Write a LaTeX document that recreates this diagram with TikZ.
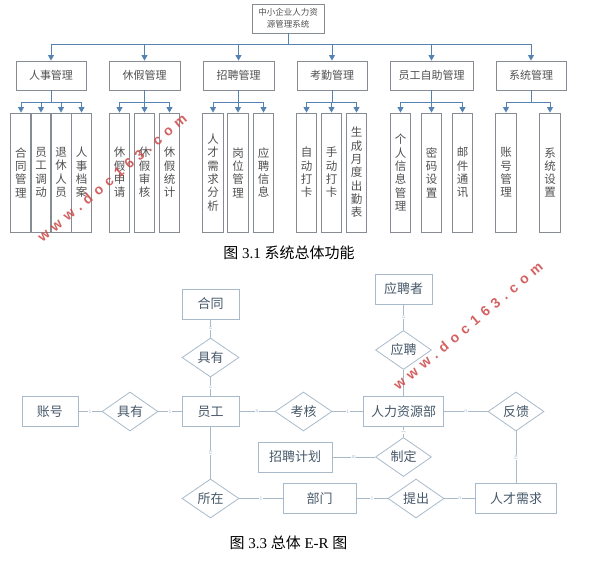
\documentclass[tikz,border=0pt]{standalone}
\usepackage{fontspec}
\setmainfont{Liberation Serif}
\newfontfamily\cjk{Noto Sans CJK SC}
\newfontfamily\wmfont[LetterSpace=40]{Liberation Sans}
\usepackage{xcolor}
\usetikzlibrary{arrows.meta}
\usetikzlibrary{shapes.geometric}
\definecolor{tline}{RGB}{84,130,178}
\definecolor{tbox}{RGB}{135,140,148}
\definecolor{ttext}{RGB}{80,80,80}
\definecolor{erline}{RGB}{168,186,202}
\definecolor{ertext}{RGB}{70,88,105}
\definecolor{wmred}{RGB}{205,70,70}
\tikzset{
	topbox/.style={draw=tbox, line width=0.9pt, minimum width=70pt, minimum height=29pt,
		inner sep=0pt, text=ttext, font=\cjk\fontsize{11}{13}\selectfont},
	leafbox/.style={draw=tbox, line width=0.9pt, minimum width=20.5pt, minimum height=119pt,
		inner sep=0pt, align=center, text=ttext, font=\cjk\fontsize{11.5}{13.3}\selectfont},
	tarrow/.style={draw=tline, line width=0.9pt, -{Triangle[length=5.5pt,width=6pt]}},
	entity/.style={draw=erline, line width=0.8pt, minimum height=30pt, inner sep=0pt,
		text=ertext, font=\cjk\fontsize{13}{15}\selectfont},
	relation/.style={entity, diamond, aspect=1.45, minimum width=56pt, minimum height=39pt},
	erlink/.style={draw=erline, line width=0.8pt},
	card/.style={midway, fill=white, inner sep=0.6pt, text=erline, font=\fontsize{5.5}{6}\selectfont},
	vcard/.style={card, rotate=90},
	wmark/.style={rotate=40, text=wmred, opacity=0.85, font=\wmfont\bfseries\fontsize{14}{14}\selectfont},
}

\begin{document}
\begin{tikzpicture}[x=1pt, y=-1pt]
	\useasboundingbox (0,0) rectangle (606,575);
	% function tree
	\node[draw=tbox, line width=0.9pt, minimum width=72pt, minimum height=29pt, inner sep=0pt,
		align=center, text=ttext, font=\cjk\fontsize{8.5}{12}\selectfont] (root) at (288,18.5)
		{中小企业人力资\\源管理系统};
	\node[topbox] (rs) at (51,75.5) {人事管理};
	\node[topbox, minimum width=71pt] (xj) at (144.5,75.5) {休假管理};
	\node[topbox, minimum width=71pt] (zp) at (238.5,75.5) {招聘管理};
	\node[topbox] (kq) at (332,75.5) {考勤管理};
	\node[topbox, minimum width=83pt] (zz) at (431.5,75.5) {员工自助管理};
	\node[topbox] (xt) at (531,75.5) {系统管理};
	\foreach \x/\n/\t in {21/rs1/合\\同\\管\\理, 41/rs2/员\\工\\调\\动, 61/rs3/退\\休\\人\\员,
		81.5/rs4/人\\事\\档\\案, 119.5/xj1/休\\假\\申\\请, 144.5/xj2/休\\假\\审\\核,
		169.5/xj3/休\\假\\统\\计, 213/zp1/人\\才\\需\\求\\分\\析, 238/zp2/岗\\位\\管\\理,
		263.5/zp3/应\\聘\\信\\息, 306.5/kq1/自\\动\\打\\卡, 331.5/kq2/手\\动\\打\\卡,
		356.5/kq3/生\\成\\月\\度\\出\\勤\\表, 400.5/zz1/个\\人\\信\\息\\管\\理,
		431.5/zz2/密\\码\\设\\置, 462.5/zz3/邮\\件\\通\\讯, 506/xt1/账\\号\\管\\理,
		550/xt2/系\\统\\设\\置}
		\node[leafbox] (\n) at (\x,172.5) {\t};
	\foreach \c in {rs,xj,zp,kq,zz,xt}
		\draw[tarrow] (root.south) -- ++(0,11) -| (\c.north);
	\foreach \p/\c in {rs/rs1,rs/rs2,rs/rs3,rs/rs4,xj/xj1,xj/xj2,xj/xj3,zp/zp1,zp/zp2,zp/zp3,
		kq/kq1,kq/kq2,kq/kq3,zz/zz1,zz/zz2,zz/zz3,xt/xt1,xt/xt2}
		\draw[tarrow] (\p.south) -- ++(0,12) -| (\c.north);
	\node[font=\fontsize{15}{17}\selectfont] (cap1) at (289,253) {{\cjk 图} 3.1 {\cjk 系统总体功能}};
	% E-R diagram
	\node[entity, minimum width=57pt] (ht) at (210.5,304) {合同};
	\node[relation, minimum width=57pt] (jy1) at (210.5,357.5) {具有};
	\node[entity, minimum width=57pt] (yg) at (210.5,411.5) {员工};
	\node[entity, minimum width=56pt] (zh) at (50,411.5) {账号};
	\node[relation] (jy2) at (130,411.5) {具有};
	\node[relation, minimum width=57pt] (kh) at (303.5,411.5) {考核};
	\node[entity, minimum width=80pt] (rl) at (403.5,411.5) {人力资源部};
	\node[relation] (fk) at (516,411.5) {反馈};
	\node[entity, minimum width=57pt] (yp) at (403.5,289) {应聘者};
	\node[relation] (ypr) at (403.5,350) {应聘};
	\node[entity, minimum width=74pt] (zj) at (295,457) {招聘计划};
	\node[relation] (zd) at (403.5,457) {制定};
	\node[relation, minimum width=57pt] (sz) at (210.5,498.5) {所在};
	\node[entity, minimum width=73pt] (bm) at (319.5,498.5) {部门};
	\node[relation] (tc) at (416,498.5) {提出};
	\node[entity, minimum width=81pt] (rc) at (516,498.5) {人才需求};
	\draw[erlink] (ht) -- node[vcard] {n} (jy1);
	\draw[erlink] (jy1) -- node[vcard] {n} (yg);
	\draw[erlink] (zh) -- node[card] {1} (jy2);
	\draw[erlink] (jy2) -- node[card] {1} (yg);
	\draw[erlink] (yg) -- node[card] {n} (kh);
	\draw[erlink] (kh) -- node[card] {1} (rl);
	\draw[erlink] (rl) -- node[card] {n} (fk);
	\draw[erlink] (fk) -- node[vcard] {m} (rc);
	\draw[erlink] (yp) -- node[vcard] {n} (ypr);
	\draw[erlink] (ypr) -- (rl);
	\draw[erlink] (rl) -- node[vcard] {1} (zd);
	\draw[erlink] (zj) -- node[card] {m} (zd);
	\draw[erlink] (yg) -- node[vcard] {m} (sz);
	\draw[erlink] (sz) -- node[card] {1} (bm);
	\draw[erlink] (bm) -- node[card] {1} (tc);
	\draw[erlink] (tc) -- node[card] {n} (rc);
	\node[font=\fontsize{15}{17}\selectfont] (cap2) at (288.5,543) {{\cjk 图} 3.3 {\cjk 总体} E-R {\cjk 图}};
	% watermarks
	\node[wmark] (wm1) at (112,178) {www.doc163.com};
	\node[wmark] (wm2) at (468,326) {www.doc163.com};
\end{tikzpicture}
\end{document}
